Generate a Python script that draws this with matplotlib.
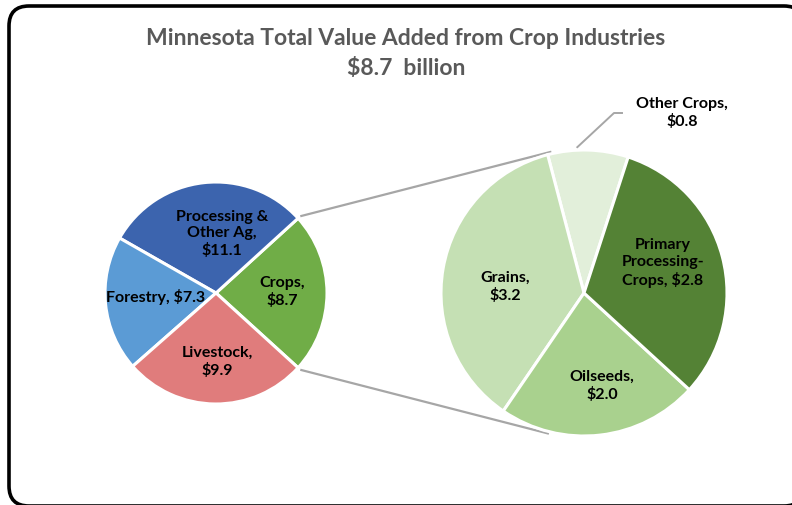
import matplotlib
matplotlib.use("Agg")
import matplotlib.pyplot as plt
import numpy as np
from matplotlib.patches import FancyBboxPatch

# ---- data ----
title_lines = ["Minnesota Total Value Added from Crop Industries", "$8.7  billion"]
main_labels = ["Crops,\n$8.7", "Processing &\nOther Ag,\n$11.1", "Forestry, $7.3", "Livestock,\n$9.9"]
main_values = [8.7, 11.1, 7.3, 9.9]
main_colors = ["#70AD47", "#3C64AE", "#5B9BD5", "#E07C7C"]

sub_labels = ["Other Crops,\n$0.8", "Grains,\n$3.2", "Oilseeds,\n$2.0", "Primary\nProcessing-\nCrops, $2.8"]
sub_values = [0.8, 3.2, 2.0, 2.8]
sub_colors = ["#E2EFDA", "#C5E0B4", "#A9D18E", "#548235"]

W, H = 792, 506
FONT = "Lato"

fig = plt.figure(figsize=(W / 100, H / 100), dpi=100)
ax = fig.add_axes([0, 0, 1, 1])
ax.set_xlim(0, W)
ax.set_ylim(0, H)
ax.axis("off")

# border (rounded rectangle, partly clipped)
border = FancyBboxPatch((9, H - 507), 795, 500, boxstyle="round,pad=0,rounding_size=20",
                        linewidth=2.6, edgecolor="black", facecolor="white", zorder=0)
ax.add_patch(border)

# main pie
c1 = (216, H - 294)
r1 = 111
crop_span = main_values[0] / sum(main_values) * 360
start1 = -crop_span / 2
wedges1, _ = ax.pie(main_values, colors=main_colors, startangle=start1, counterclock=True,
                    center=c1, radius=r1, frame=True,
                    wedgeprops=dict(edgecolor="white", linewidth=2.2))

# secondary pie
c2 = (584, H - 294)
r2 = 143
other_span = sub_values[0] / sum(sub_values) * 360
start2 = 72.0
wedges2, _ = ax.pie(sub_values, colors=sub_colors, startangle=start2, counterclock=True,
                    center=c2, radius=r2, frame=True,
                    wedgeprops=dict(edgecolor="white", linewidth=2.2))
ax.set_xlim(0, W)
ax.set_ylim(0, H)
ax.set_aspect("equal")
ax.axis("off")

# connector lines
def pt(c, r, deg):
    a = np.deg2rad(deg)
    return c[0] + r * np.cos(a), c[1] + r * np.sin(a)

for a1, a2 in [(crop_span / 2, 103.0), (-crop_span / 2, -104.0)]:
    x0, y0 = pt(c1, r1 + 3, a1)
    x1, y1 = pt(c2, r2 + 2, a2)
    ax.plot([x0, x1], [y0, y1], color="#A6A6A6", lw=1.6, zorder=0.5, solid_capstyle="butt")

# leader for Other Crops
lx0, ly0 = pt(c2, r2 + 3, start2 + other_span * 0.63)
ax.plot([lx0, 614, 622], [ly0, H - 114, H - 114], color="#A6A6A6", lw=1.4, zorder=0.5)

# titles
ax.text(W / 2 + 10, H - 38, title_lines[0], ha="center", va="center", fontsize=16.5,
        fontweight="bold", color="#595959", family=FONT)
ax.text(W / 2 + 10, H - 68, title_lines[1], ha="center", va="center", fontsize=16.5,
        fontweight="bold", color="#595959", family=FONT)

# labels
main_pos = [(282, 292), (222, 234), (156, 297), (217, 362)]
sub_pos = [(682, 113), (505, 287), (602, 386), (663, 263)]
for lab, (x, y) in zip(main_labels, main_pos):
    ax.text(x, H - y, lab, ha="center", va="center", fontsize=11.5, fontweight="bold",
            color="black", family=FONT, linespacing=1.25)
for lab, (x, y) in zip(sub_labels, sub_pos):
    ax.text(x, H - y, lab, ha="center", va="center", fontsize=11.5, fontweight="bold",
            color="black", family=FONT, linespacing=1.25)

fig.savefig("out.png", dpi=100, facecolor="white")
